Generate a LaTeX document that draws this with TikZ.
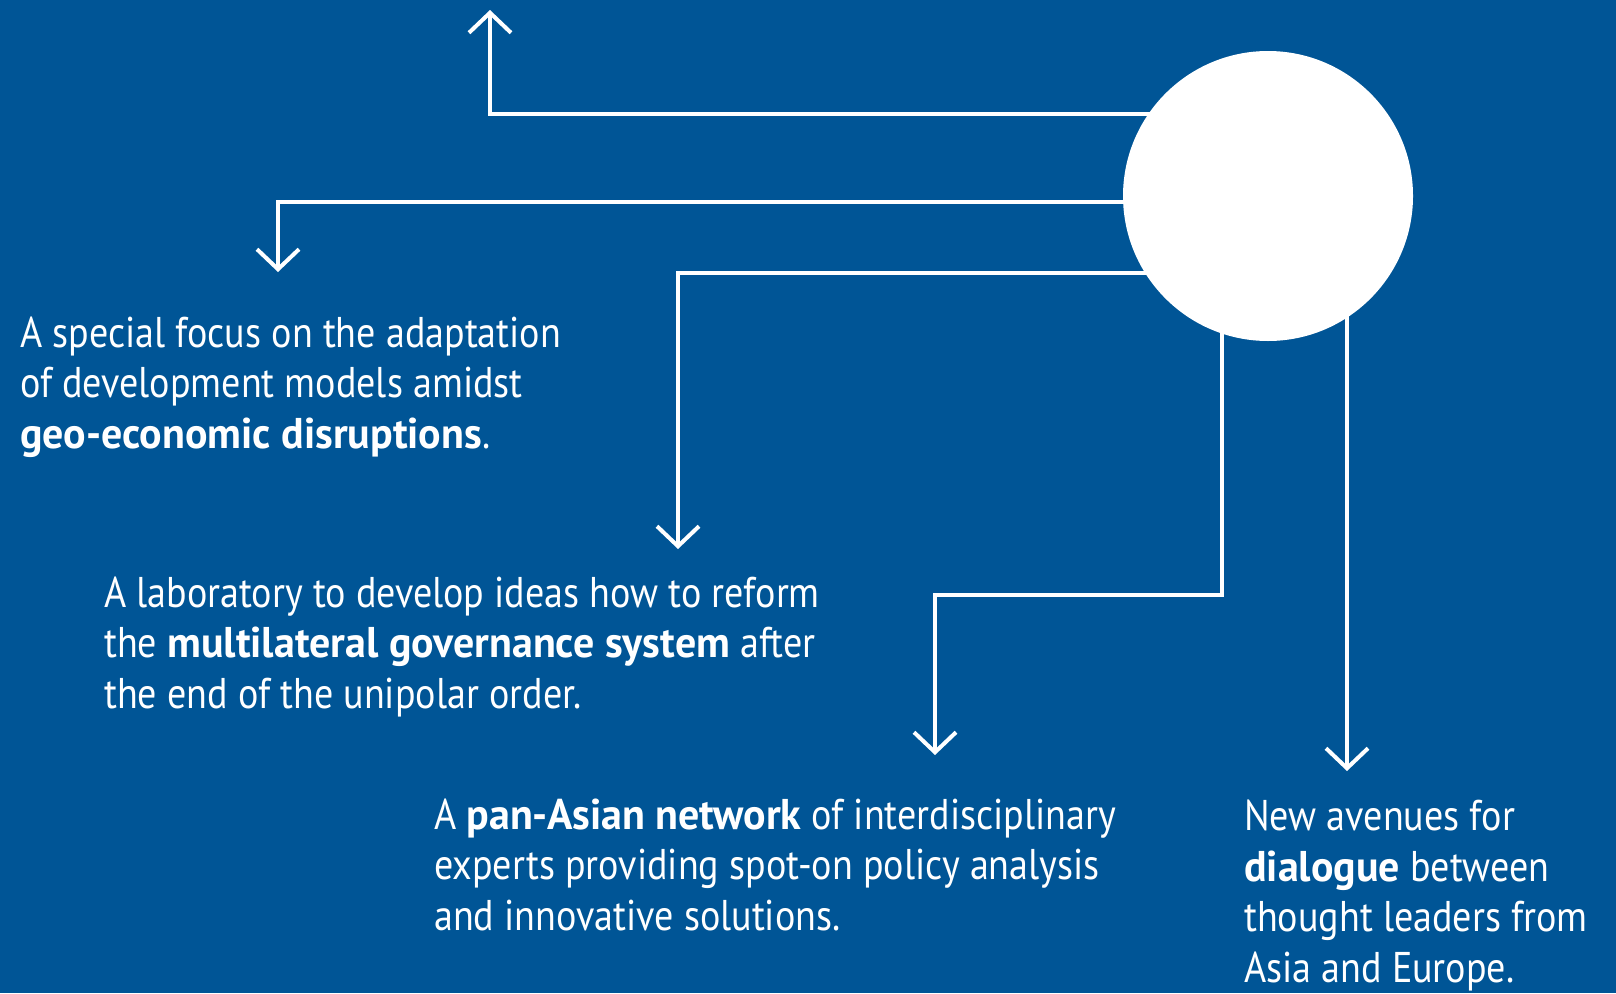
\documentclass[tikz,border=0pt]{standalone}
\usepackage{fontspec}
\setmainfont{PT Sans}[FakeStretch=0.885,BoldFeatures={FakeStretch=0.975}]
\usetikzlibrary{arrows.meta}
\definecolor{bgblue}{RGB}{0,85,150}
\pgfdeclarelayer{bg}
\pgfdeclarelayer{lines}
\pgfsetlayers{bg,lines,main}
\tikzset{
  conn/.style={draw=white, line width=4pt, line join=miter,
    -{Straight Barb[length=20pt,width=42pt,line width=4pt]}},
  txt/.style={text=white, font=\fontsize{43}{50.5}\selectfont, align=left,
    inner sep=0pt, anchor=base west},
  hubstyle/.style={circle, fill=white, minimum size=290pt, inner sep=0pt}
}
\begin{document}
\begin{tikzpicture}[x=1pt,y=-1pt]
\begin{pgfonlayer}{bg}
\fill[bgblue] (0,0) rectangle (1616,993);
\end{pgfonlayer}
\useasboundingbox (0,0) rectangle (1616,993);
\node[hubstyle] (hub) at (1268,196) {};
\coordinate (t1) at (490,10);
\coordinate (t2) at (278,272);
\coordinate (t3) at (678,549);
\coordinate (t4) at (935,755);
\coordinate (t5) at (1347,771);
\begin{pgfonlayer}{lines}
\draw[conn] (hub.center |- 0,114) -- (t1 |- 0,114) -- (t1);
\draw[conn] (hub.center |- 0,202) -- (t2 |- 0,202) -- (t2);
\draw[conn] (hub.center |- 0,273) -- (t3 |- 0,273) -- (t3);
\draw[conn] (1222,196) -- (1222,595) -- (t4 |- 0,595) -- (t4);
\draw[conn] (t5 |- hub.center) -- (t5);
\end{pgfonlayer}
\node[txt] (a) at (20,448) {A special focus on the adaptation\\of development models amidst\\\textbf{geo-economic disruptions}.};
\node[txt] (b) at (104,708) {A laboratory to develop ideas how to reform\\the \textbf{multilateral governance system} after\\the end of the unipolar order.};
\node[txt] (c) at (434,930) {A \textbf{pan-Asian network} of interdisciplinary\\experts providing spot-on policy analysis\\and innovative solutions.};
\node[txt] (d) at (1244,982) {New avenues for\\\textbf{dialogue} between\\thought leaders from\\Asia and Europe.};
\end{tikzpicture}
\end{document}
